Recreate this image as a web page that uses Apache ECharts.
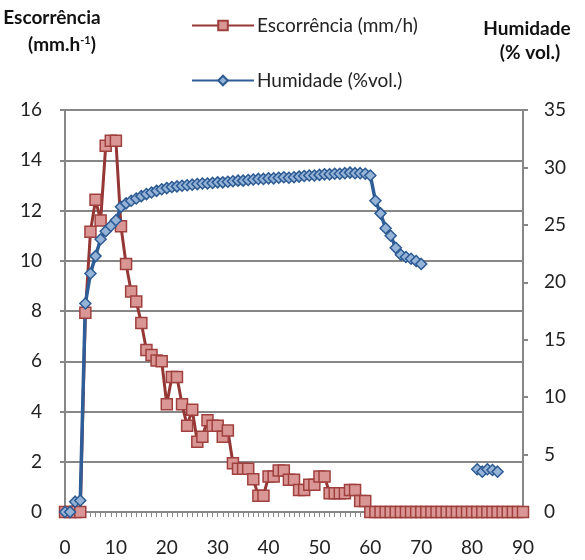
<!DOCTYPE html>
<html><head><meta charset="utf-8">
<script src="https://cdn.jsdelivr.net/npm/echarts@6/dist/echarts.min.js"></script>
<style>html,body{margin:0;padding:0;background:#fff}#c{width:585px;height:560px}</style>
</head><body><div id="c"></div>
<script>
const minutes = [0,1,2,3,4,5,6,7,8,9,10,11,12,13,14,15,16,17,18,19,20,21,22,23,24,25,26,27,28,29,30,31,32,33,34,35,36,37,38,39,40,41,42,43,44,45,46,47,48,49,50,51,52,53,54,55,56,57,58,59,60,61,62,63,64,65,66,67,68,69,70,71,72,73,74,75,76,77,78,79,80,81,82,83,84,85,86,87,88,89,90];
const runoff = [0,0,0,0,7.93,11.15,12.43,11.6,14.58,14.78,14.78,11.37,9.87,8.78,8.38,7.52,6.45,6.25,6.03,6.0,
  4.29,5.37,5.37,4.29,3.43,4.07,2.8,3.0,3.65,3.43,3.43,3.0,3.24,1.94,1.72,1.72,1.72,1.3,0.65,0.65,
  1.41,1.41,1.65,1.65,1.28,1.28,0.88,0.88,1.08,1.08,1.41,1.41,0.75,0.75,0.75,0.75,0.88,0.88,0.44,0.44,
  0,0,0,0,0,0,0,0,0,0,0,0,0,0,0,0,0,0,0,0,0,0,0,0,0,0,0,0,0,0,0];
const humidity = [0,0,0.9,1.0,18.15,20.77,22.28,23.75,24.45,24.9,25.4,26.57,26.87,27.1,27.3,27.5,27.68,27.82,27.96,28.1,
  28.2,28.3,28.35,28.4,28.45,28.5,28.55,28.6,28.6,28.65,28.7,28.7,28.75,28.8,28.85,28.85,28.9,28.95,29.0,29.0,
  29.05,29.05,29.1,29.15,29.1,29.15,29.2,29.25,29.3,29.3,29.35,29.4,29.4,29.45,29.45,29.5,29.55,29.5,29.5,29.45,
  29.3,27.1,26.0,24.7,24.05,23.0,22.4,22.2,22.05,21.85,21.6,
  null,null,null,null,null,null,null,null,null,null,
  3.72,3.51,3.72,3.66,3.51,null,null,null,null,null];
const seriesNames = ['Escorrência (mm/h)', 'Humidade (%vol.)'];
const leftAxis = {min: 0, max: 16, step: 2};
const rightAxis = {min: 0, max: 35, step: 5};

const FONT = 'Lato, "Open Sans", sans-serif';
const GRAY = '#878787';
const chart = echarts.init(document.getElementById('c'), null, {renderer: 'canvas'});
chart.setOption({
  animation: false,
  textStyle: {fontFamily: FONT},
  grid: {left: 65, right: 62, top: 110, bottom: 48},
  legend: {
    orient: 'vertical', left: 186, top: 11, itemGap: 36,
    itemWidth: 62, itemHeight: 12,
    textStyle: {fontSize: 19, color: '#222', fontFamily: FONT, padding: [0,0,0,-2]},
    data: seriesNames
  },
  graphic: [
    {type: 'text', x: 52, y: 18, style: {text: 'Escorrência', font: 'bold 19px ' + FONT, fill: '#111', align: 'center', verticalAlign: 'middle'}},
    {type: 'text', x: 62, y: 45, style: {text: '{b|(mm.h}{s|-1}{b|)}', align: 'center', verticalAlign: 'middle',
      rich: {b: {font: 'bold 19px ' + FONT, fill: '#111'}, s: {font: 'bold 11px ' + FONT, fill: '#111', verticalAlign: 'top', padding: [0,0,10,0]}}}},
    {type: 'text', x: 527, y: 29, style: {text: 'Humidade', font: 'bold 19px ' + FONT, fill: '#111', align: 'center', verticalAlign: 'middle'}},
    {type: 'text', x: 530, y: 53, style: {text: '(% vol.)', font: 'bold 19px ' + FONT, fill: '#111', align: 'center', verticalAlign: 'middle'}}
  ],
  xAxis: {
    type: 'category', data: minutes, boundaryGap: false,
    axisLine: {lineStyle: {color: GRAY, width: 2}},
    axisTick: {interval: 0, length: 5, lineStyle: {color: GRAY, width: 1}},
    axisLabel: {interval: 9, fontSize: 19, color: '#222', margin: 26, fontFamily: FONT}
  },
  yAxis: [
    {type: 'value', min: leftAxis.min, max: leftAxis.max, interval: leftAxis.step, position: 'left',
      axisLine: {show: true, lineStyle: {color: GRAY, width: 2}},
      axisTick: {show: true, length: 5, lineStyle: {color: GRAY, width: 2}},
      axisLabel: {fontSize: 19, color: '#222', margin: 23, fontFamily: FONT},
      splitLine: {lineStyle: {color: GRAY, width: 2}}},
    {type: 'value', min: rightAxis.min, max: rightAxis.max, interval: rightAxis.step, position: 'right',
      axisLine: {show: true, lineStyle: {color: GRAY, width: 2}},
      axisTick: {show: true, length: 5, lineStyle: {color: GRAY, width: 2}},
      axisLabel: {fontSize: 19, color: '#222', margin: 21, fontFamily: FONT},
      splitLine: {show: false}}
  ],
  series: [
    {name: seriesNames[0], type: 'line', yAxisIndex: 0, data: runoff,
      symbol: 'rect', symbolSize: 11, showAllSymbol: true,
      lineStyle: {color: '#953735', width: 3},
      itemStyle: {color: '#d99694', borderColor: '#a0403e', borderWidth: 1.5}},
    {name: seriesNames[1], type: 'line', yAxisIndex: 1, data: humidity, connectNulls: false,
      symbol: 'diamond', symbolSize: [11, 11], showAllSymbol: true,
      lineStyle: {color: '#2f5d97', width: 3.5},
      itemStyle: {color: '#95b3d7', borderColor: '#2c5a93', borderWidth: 1.5}}
  ]
});
</script></body></html>
